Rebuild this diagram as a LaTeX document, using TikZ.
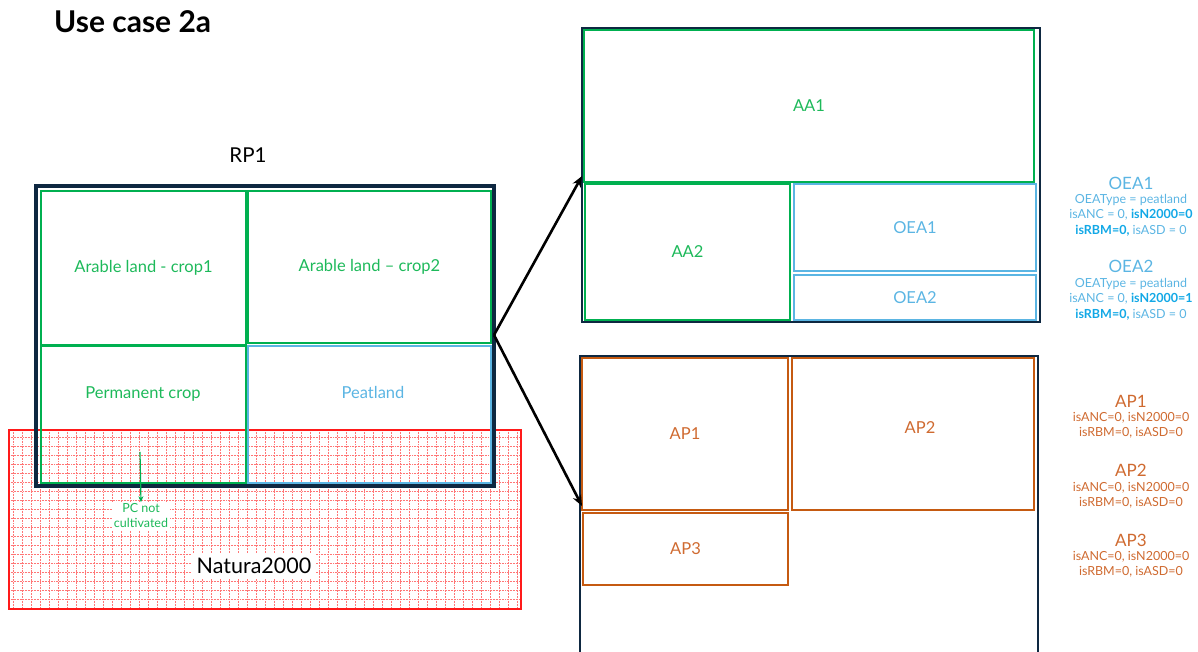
\documentclass[tikz,border=0pt]{standalone}
\usepackage{fontspec}
\setmainfont{Lato}
\usetikzlibrary{arrows.meta}
\definecolor{navy}{HTML}{0E2841}
\definecolor{lgreen}{HTML}{00B050}
\definecolor{tgreen}{HTML}{1DB95A}
\definecolor{lblue}{HTML}{5BB5E3}
\definecolor{bblue}{HTML}{12A8E6}
\definecolor{orng}{HTML}{C55A11}
\definecolor{torng}{HTML}{CF6A30}
\definecolor{nred}{HTML}{FF1A1A}
\tikzset{
  x=1pt, y=-1pt,
  cellfont/.style={font=\fontsize{16.5}{19}\selectfont},
  cell/.style={anchor=north west, inner sep=0pt, outer sep=0pt},
  greencell/.style={cell, draw=lgreen, line width=2.2pt, text=tgreen, cellfont},
  bluecell/.style={cell, draw=lblue, line width=2.2pt, text=lblue, cellfont},
  orangecell/.style={cell, draw=orng, line width=2.2pt, text=torng, cellfont},
  panel/.style={cell, draw=navy, line width=1.4pt},
  note/.style={align=center, inner sep=0pt, font=\fontsize{12.5}{15.5}\selectfont},
  notehead/.style={inner sep=0pt, font=\fontsize{17}{20}\selectfont},
  hatch/.style={nred!60, line width=0.55pt, densely dotted},
  arr/.style={line width=2.6pt, -{Stealth[length=11pt,width=9pt]}}
}
\begin{document}
\begin{tikzpicture}
\useasboundingbox (0,0) rectangle (1198,652);

% title
\node[anchor=west, inner sep=0pt, font=\fontsize{30}{34}\selectfont\bfseries] (title) at (54,22) {Use case 2a};
\node[inner sep=0pt, font=\fontsize{20.5}{24}\selectfont] (rp1lbl) at (248,155) {RP1};

% Natura2000 hatched area
\foreach \gx in {13,22,...,520} \draw[hatch] (\gx,430) -- (\gx,609);
\foreach \gy in {437,446,...,608} \draw[hatch] (9,\gy) -- (521,\gy);
\node[cell, draw=nred, line width=1.6pt, minimum width=512pt, minimum height=179pt] (natura) at (9,430) {};

% RP1 parcel and its parts
\node[cell, draw=navy, line width=4pt, minimum width=458pt, minimum height=300pt] (rp1) at (36,186) {};
\node[greencell, minimum width=205pt, minimum height=154pt] (al1) at (41,191) {Arable land - crop1};
\node[greencell, minimum width=243pt, minimum height=152pt] (al2) at (248,191) {Arable land -- crop2};
\node[greencell, minimum width=205pt, minimum height=137pt] (pc) at (41,346) {};
\node[tgreen, inner sep=0pt, cellfont] (pclbl) at (143,394) {Permanent crop};
\node[bluecell, minimum width=243pt, minimum height=137pt] (peat) at (248,346) {};
\node[lblue, inner sep=0pt, cellfont] (peatlbl) at (373,392) {Peatland};

% not cultivated marker
\coordinate (pcfrom) at (140,452);
\node[fill=white, text=tgreen, align=center, inner sep=1.5pt, font=\fontsize{12.5}{15}\selectfont] (pcnot) at (141,516) {PC not\\cultivated};
\draw[lgreen, line width=1.2pt, -{Stealth[length=6pt,width=5pt]}] (pcfrom) -- (pcnot.north);

\node[fill=white, inner sep=5pt, font=\fontsize{21.5}{25}\selectfont] (naturalbl) at (254,566) {Natura2000};

% upper panel: agricultural areas / other eligible areas
\node[panel, minimum width=458pt, minimum height=294pt] (top) at (582,28) {};
\node[greencell, minimum width=450pt, minimum height=152pt] (aa1) at (584,30) {AA1};
\node[greencell, minimum width=205pt, minimum height=136pt] (aa2) at (585,184) {AA2};
\node[bluecell, minimum width=242pt, minimum height=87pt] (oea1) at (794,184) {OEA1};
\node[bluecell, minimum width=242pt, minimum height=45pt] (oea2) at (794,275) {OEA2};

% lower panel: agricultural parcels (continues below the page)
\coordinate (bot) at (580,356);
\draw[navy, line width=1.4pt] (580,660) -- (bot) -- (1038,356) -- (1038,660);
\node[orangecell, minimum width=206pt, minimum height=152pt] (ap1) at (582,358) {AP1};
\node[orangecell, minimum width=242pt, minimum height=152pt] (ap2) at (792,358) {};
\node[torng, inner sep=0pt, cellfont] (ap2lbl) at (920,428) {AP2};
\node[orangecell, minimum width=205pt, minimum height=72pt] (ap3) at (583,513) {AP3};

% split arrows
\coordinate (split) at (494,335);
\coordinate (topin) at (582,176);
\coordinate (botin) at (582,506);
\draw[arr] (split) -- (topin);
\draw[arr] (split) -- (botin);

% attribute notes
\node[notehead, text=lblue] (n1h) at (1131,183) {OEA1};
\node[note, text=lblue, anchor=north] (n1) at (1131,194) {OEAType = peatland\\isANC = 0, {\color{bblue}\bfseries isN2000=0}\\{\color{bblue}\bfseries isRBM=0,} isASD = 0};
\node[notehead, text=lblue] (n2h) at (1131,266) {OEA2};
\node[note, text=lblue, anchor=north] (n2) at (1131,278) {OEAType = peatland\\isANC = 0, {\color{bblue}\bfseries isN2000=1}\\{\color{bblue}\bfseries isRBM=0,} isASD = 0};

\node[notehead, text=torng] (a1h) at (1131,401) {AP1};
\node[note, text=torng, anchor=north] (a1) at (1131,412) {isANC=0, isN2000=0\\isRBM=0, isASD=0};
\node[notehead, text=torng] (a2h) at (1131,470) {AP2};
\node[note, text=torng, anchor=north] (a2) at (1131,482) {isANC=0, isN2000=0\\isRBM=0, isASD=0};
\node[notehead, text=torng] (a3h) at (1131,540) {AP3};
\node[note, text=torng, anchor=north] (a3) at (1131,551) {isANC=0, isN2000=0\\isRBM=0, isASD=0};
\end{tikzpicture}
\end{document}
